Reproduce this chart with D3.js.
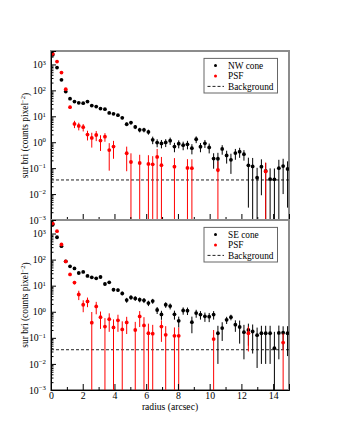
<!DOCTYPE html>
<html>
<head>
<meta charset="utf-8">
<script src="https://cdn.jsdelivr.net/npm/d3@7"></script>
<style>
  body { margin: 0; background: #fff; }
  svg { display: block; }
  text { font-family: "Liberation Serif", "DejaVu Serif", serif; fill: #000; }
</style>
</head>
<body>
<svg id="board" width="340" height="440"></svg>
<script>
// radius bins (arcsec)
let radius = [0.11, 0.38, 0.66, 0.93, 1.2, 1.48, 1.75, 2.03, 2.3, 2.57,
    2.85, 3.12, 3.4, 3.67, 3.94, 4.22, 4.49, 4.77, 5.04, 5.31,
    5.59, 5.86, 6.14, 6.41, 6.69, 6.96, 7.23, 7.51, 7.78, 8.05,
    8.33, 8.6, 8.88, 9.15, 9.42, 9.7, 9.97, 10.25, 10.52, 10.79,
    11.07, 11.34, 11.62, 11.89, 12.16, 12.44, 12.71, 12.99, 13.26, 13.53,
    13.81, 14.08, 14.36, 14.63, 14.91]

// NW cone (top panel)
let nwCone = [2350, 760, 254, 90, 48, 37, 33, 32, 37, 26,
    23.7, 19.8, 18.8, 13.5, 12.4, 11.0, 8.7, 4.95, 5.7, 3.9,
    3.0, 3.0, 2.5, 1.24, 0.97, 0.9, 0.98, 1.15, 0.68, 0.88,
    0.77, 0.83, 0.59, 1.3, 0.67, 0.91, 0.63, 0.235, 0.23, 0.55,
    0.31, 0.21, 0.38, 0.43, 0.345, 0.128, 0.117, 0.043, 0.114, 0.078,
    0.038, 0.037, 0.1, 0.12, 0.093]
let nwConeErr = [150, 40, 15, 6, 3, 2.5, 2.2, 2.2, 2.5, 2,
    1.8, 1.6, 1.6, 1.3, 1.2, 1.1, 1.0, 0.8, 0.9, 0.7,
    0.6, 0.6, 0.55, 0.4, 0.33, 0.32, 0.33, 0.36, 0.27, 0.3,
    0.28, 0.3, 0.25, 0.38, 0.26, 0.31, 0.26, 0.14, 0.16, 0.22,
    0.16, 0.15, 0.17, 0.18, 0.15, 0.125, 0.13, 0.06, 0.105, 0.08,
    0.06, 0.06, 0.11, 0.11, 0.09]

// PSF for the top panel (null = bin not shown)
let psfTop = [2570, 1290, 487, 111, 22.4, 5.1, 4.26, 3.8, 1.97, 1.47,
    1.9, 1.16, 1.64, 0.5, 0.68, null, null, 0.376, 0.173, null,
    0.158, null, 0.145, 0.14, 0.27, 0.13, null, null, 0.114, null,
    null, 0.102, 0.1, null, null, null, null, null, 0.085, null,
    null, null, null, null, null, null, null, null, null, 0.075,
    null, null, null, null, null]
let psfTopErr = [100, 60, 30, 10, 3, 1.6, 1.4, 1.2, 0.8, 0.85,
    0.8, 0.7, 0.6, 0.42, 0.45, null, null, 0.3, 0.2, null,
    0.17, null, 0.17, 0.15, 0.28, 0.14, null, null, 0.13, null,
    null, 0.12, 0.12, null, null, null, null, null, 0.1, null,
    null, null, null, null, null, null, null, null, null, 0.09,
    null, null, null, null, null]

// SE cone (bottom panel)
let seCone = [2220, 720, 326, 86, 55, 46, 30.7, 33.6, 23.6, 20.9,
    19.1, 21.5, 11.6, 13.4, 7.0, 6.8, 5.07, 2.81, 3.56, 3.26,
    2.9, 2.75, 2.15, 2.57, 1.17, 0.79, 1.86, 1.65, 0.8, 0.45,
    1.12, 1.1, 0.4, 0.89, 0.78, 0.67, 0.65, 0.78, 0.15, 0.236,
    0.49, 0.62, 0.32, 0.26, 0.165, 0.2, 0.175, 0.127, 0.15, 0.15,
    0.15, 0.04, 0.155, 0.157, 0.15]
let seConeErr = [150, 40, 18, 6, 4, 3.5, 2.5, 2.6, 2.2, 2,
    1.9, 2, 1.4, 1.5, 1.0, 1.0, 0.85, 0.6, 0.7, 0.65,
    0.6, 0.6, 0.5, 0.55, 0.35, 0.3, 0.45, 0.42, 0.3, 0.2,
    0.35, 0.35, 0.25, 0.3, 0.28, 0.26, 0.25, 0.28, 0.14, 0.16,
    0.15, 0.15, 0.15, 0.2, 0.15, 0.15, 0.15, 0.12, 0.14, 0.14,
    0.14, 0.13, 0.14, 0.12, 0.13]

// PSF for the bottom panel
let psfBottom = [2400, 1230, 380, 85, 27, 13.2, 4.6, 1.86, 2.5, 0.38,
    1.6, 0.62, 0.27, 0.52, 0.25, 0.47, 0.21, 0.39, null, 0.2,
    0.66, 0.3, 0.15, 0.145, null, 0.27, 0.13, null, 0.12, 0.12,
    null, null, null, null, null, null, null, 0.09, null, null,
    null, null, null, null, null, 0.15, null, null, null, null,
    null, null, null, 0.066, null]
let psfBottomErr = [100, 60, 25, 8, 3, 2, 1.8, 0.9, 1.0, 0.6,
    0.8, 0.4, 0.3, 0.35, 0.26, 0.3, 0.22, 0.25, null, 0.21,
    0.4, 0.32, 0.2, 0.17, null, 0.2, 0.15, null, 0.13, 0.13,
    null, null, null, null, null, null, null, 0.11, null, null,
    null, null, null, null, null, 0.12, null, null, null, null,
    null, null, null, 0.08, null]

let background = 0.035

let xTicks = [0, 2, 4, 6, 8, 10, 12, 14]
let xMinorTicks = [1, 3, 5, 7, 9, 11, 13, 15]
let yTicks = [1e-3, 1e-2, 1e-1, 1, 10, 100, 1000]

let panels = [
    { name: 'top', label: 'NW cone', cone: nwCone, coneErr: nwConeErr, psf: psfTop, psfErr: psfTopErr, y0: 51, y1: 220, xLabels: false },
    { name: 'bottom', label: 'SE cone', cone: seCone, coneErr: seConeErr, psf: psfBottom, psfErr: psfBottomErr, y0: 220, y1: 390, xLabels: true }
]

let board = d3.select('#board')
let left = 51
let right = 289

let x = d3.scaleLinear().domain([0, 15]).range([left, right])

// minor log ticks 2..9 in each decade
let yMinor = []
for (let e = -3; e < 4; e++) {
    for (let m = 2; m <= 9; m++) {
        let v = m * Math.pow(10, e)
        if (v < 3300) yMinor.push(v)
    }
}

let drawPanel = (p) => {
    let y = d3.scaleLog().domain([1e-3, 3300]).range([p.y1, p.y0])
    let g = board.append('g')

    g.append('clipPath').attr('id', 'clip-' + p.name)
        .append('rect')
        .attr('x', left).attr('y', p.y0)
        .attr('width', right - left).attr('height', p.y1 - p.y0)

    // frame
    g.append('rect')
        .attr('x', left).attr('y', p.y0)
        .attr('width', right - left).attr('height', p.y1 - p.y0)
        .attr('fill', 'none')
        .attr('stroke', '#8c8c8c')
        .attr('stroke-width', 2)

    let plot = g.append('g').attr('clip-path', 'url(#clip-' + p.name + ')')

    // background level
    plot.append('line')
        .attr('x1', left).attr('x2', right)
        .attr('y1', y(background)).attr('y2', y(background))
        .attr('stroke', '#222')
        .attr('stroke-dasharray', '3,2')

    let drawSeries = (vals, errs, color) => {
        let pts = radius.map((r, i) => ({ r: r, v: vals[i], e: errs[i] }))
            .filter(d => d.v !== null)
        plot.append('g').selectAll('line')
            .data(pts)
            .enter()
            .append('line')
            .attr('x1', d => x(d.r)).attr('x2', d => x(d.r))
            .attr('y1', d => y(d.v + d.e))
            .attr('y2', d => d.v - d.e > 1e-4 ? y(d.v - d.e) : p.y1 + 5)
            .attr('stroke', color)
            .attr('stroke-width', 1)
        plot.append('g').selectAll('circle')
            .data(pts)
            .enter()
            .append('circle')
            .attr('cx', d => x(d.r))
            .attr('cy', d => y(d.v))
            .attr('r', 1.9)
            .attr('fill', color)
    }
    drawSeries(p.cone, p.coneErr, '#000')
    drawSeries(p.psf, p.psfErr, '#ff0000')

    // y axis, ticks pointing inwards
    let yAxis = g.append('g')
        .attr('transform', 'translate(' + left + ',0)')
        .call(d3.axisLeft(y).tickValues(yTicks).tickSize(-5).tickPadding(5).tickFormat(() => ''))
    yAxis.select('.domain').attr('stroke', '#000')
    yAxis.selectAll('.tick text').each(function (d) {
        let t = d3.select(this)
        t.attr('font-size', 9.8).attr('font-family', '"Liberation Serif", serif')
        t.append('tspan').text('10')
        t.append('tspan').text(Math.round(Math.log10(d)).toString().replace('-', '\u2212'))
            .attr('font-size', 6.8).attr('dy', '-0.5em')
    })
    g.append('g')
        .attr('transform', 'translate(' + left + ',0)')
        .call(d3.axisLeft(y).tickValues(yMinor).tickSize(-2.5).tickFormat(''))
        .select('.domain').remove()

    // x axis
    let xAxis = g.append('g')
        .attr('transform', 'translate(0,' + p.y1 + ')')
        .call(d3.axisBottom(x).tickValues(xTicks).tickSize(-6).tickPadding(2.5)
            .tickFormat(p.xLabels ? d3.format('d') : ''))
    xAxis.select('.domain').attr('stroke', '#000')
    xAxis.selectAll('text')
        .attr('font-size', 9.8).attr('font-family', '"Liberation Serif", serif')
    g.append('g')
        .attr('transform', 'translate(0,' + p.y1 + ')')
        .call(d3.axisBottom(x).tickValues(xMinorTicks).tickSize(-3).tickFormat(''))
        .select('.domain').remove()

    // y title
    let mid = (p.y0 + p.y1) / 2
    let title = g.append('text')
        .attr('transform', 'translate(28,' + mid + ') rotate(-90)')
        .attr('text-anchor', 'middle')
        .attr('font-size', 9.4)
    title.append('tspan').text('sur bri (counts pixel')
    title.append('tspan').text('\u22122').attr('font-size', 6.5).attr('dy', '-0.5em')
    title.append('tspan').text(')').attr('dy', '0.5em')

    // legend
    let ly = p.y0 + 14.6
    let legend = g.append('g')
    legend.append('rect')
        .attr('x', 204).attr('y', ly - 7.2)
        .attr('width', 73.5).attr('height', 34.6)
        .attr('fill', '#fff')
        .attr('stroke', '#666')
        .attr('stroke-width', 1)
    let items = [
        { label: p.label, color: '#000', kind: 'dot' },
        { label: 'PSF', color: '#ff0000', kind: 'dot' },
        { label: 'Background', color: '#222', kind: 'dash' }
    ]
    items.forEach((it, i) => {
        let yy = ly + i * 10.4
        if (it.kind === 'dot') {
            legend.append('circle').attr('cx', 215.5).attr('cy', yy).attr('r', 1.5).attr('fill', it.color)
        } else {
            legend.append('line').attr('x1', 207.5).attr('x2', 224).attr('y1', yy).attr('y2', yy)
                .attr('stroke', it.color).attr('stroke-dasharray', '3,2')
        }
        legend.append('text')
            .attr('x', 228).attr('y', yy + 3.3)
            .attr('font-size', 9.3)
            .text(it.label)
    })
}

panels.forEach(drawPanel)

// x title
board.append('text')
    .attr('x', (left + right) / 2)
    .attr('y', 409.5)
    .attr('text-anchor', 'middle')
    .attr('font-size', 9.6)
    .text('radius (arcsec)')
</script>
</body>
</html>
